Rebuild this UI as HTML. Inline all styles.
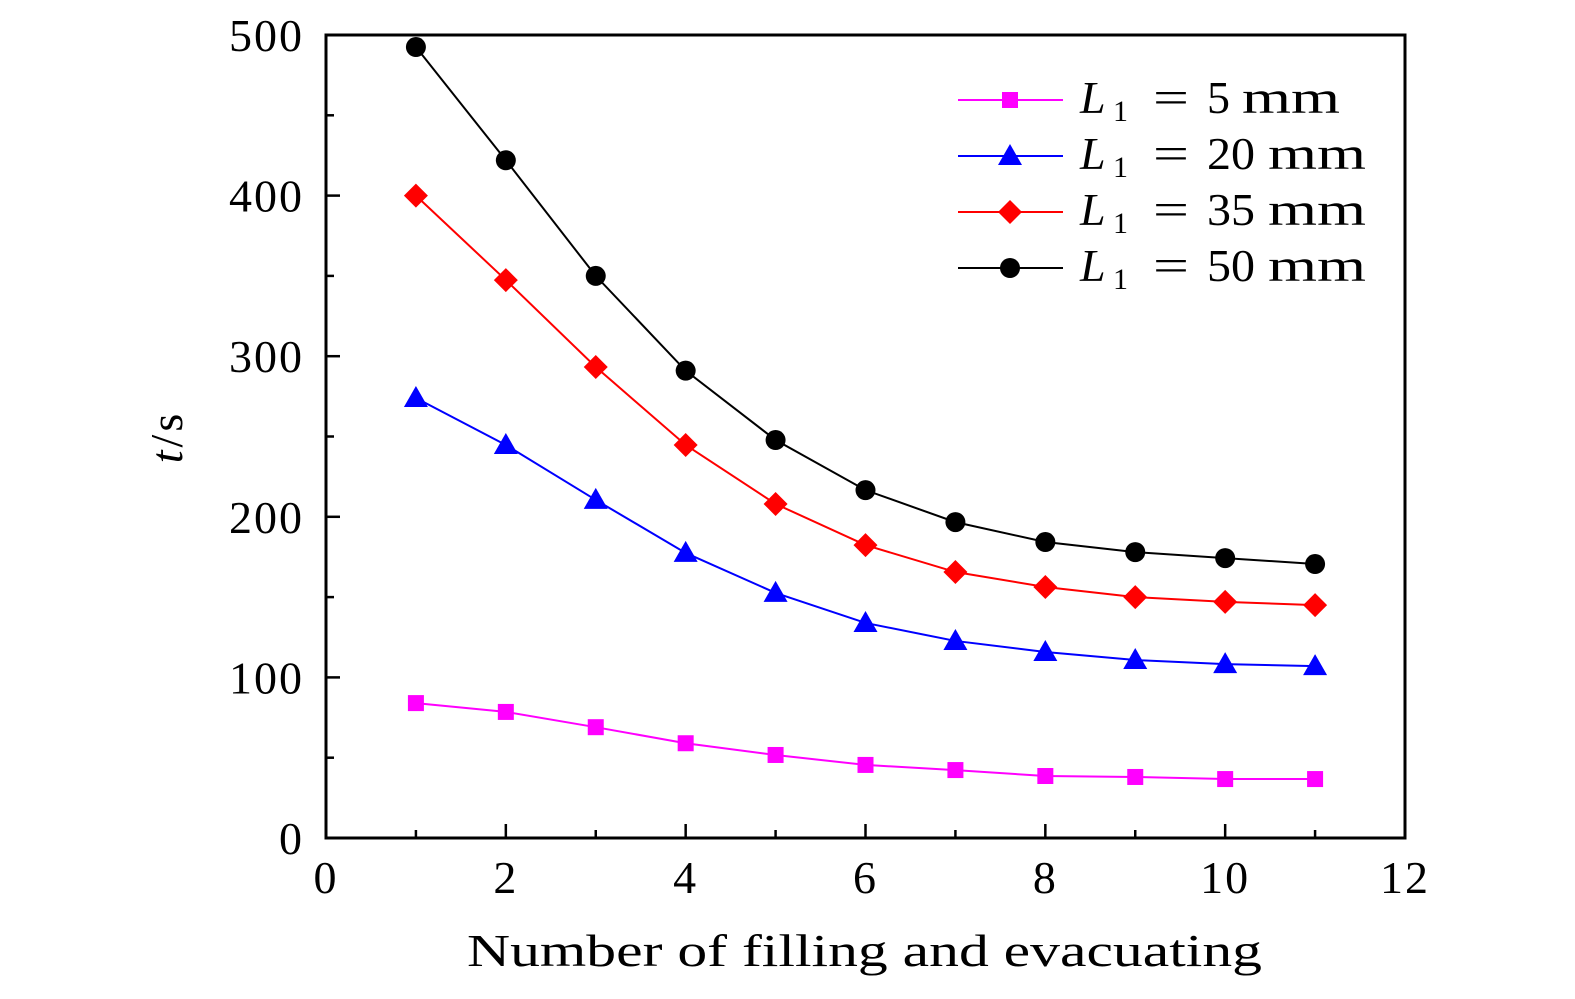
<!DOCTYPE html>
<html><head><meta charset="utf-8"><style>
html,body{margin:0;padding:0;background:#fff;}
svg text{font-family:"Liberation Serif",serif;fill:#000;}
</style></head><body>
<svg id="chart" width="1575" height="994" viewBox="0 0 1575 994" xmlns="http://www.w3.org/2000/svg">
<rect x="0" y="0" width="1575" height="994" fill="#fff"/>
<g id="axes"></g>
<g id="series"></g>
<g id="legend"></g>
<text x="467" y="966" font-size="46" textLength="795" lengthAdjust="spacingAndGlyphs">Number of filling and evacuating</text>
<text transform="translate(182,437) rotate(-90)" font-size="46" text-anchor="middle" letter-spacing="3"><tspan font-style="italic">t</tspan>/s</text>
</svg>
<script>
const xCats = [1,2,3,4,5,6,7,8,9,10,11];
const s5 = [84,78.5,69,59,51.7,45.5,42.3,38.6,38,36.7,36.7];
const s20 = [274,244.7,210.5,177.5,152.6,133.9,122.7,115.8,110.8,108.3,107];
const s35 = [400,347.4,293.3,244.7,208,182.4,165.6,156.3,150,147,145];
const s50 = [492.5,422,350,291,247.8,216.6,196.7,184.3,178,174.3,170.6];
const xTicks = [0,2,4,6,8,10,12];
const yTicks = [0,100,200,300,400,500];
const legendLabels = ["5","20","35","50"];

const NS="http://www.w3.org/2000/svg";
const X0=326,X1=1405,Y0=838,Y1=35;
const xs=v=>X0+(v-0)/12*(X1-X0);
const ys=v=>Y0-(v-0)/500*(Y0-Y1);
function mk(tag,attrs,parent){const e=document.createElementNS(NS,tag);for(const k in attrs)e.setAttribute(k,attrs[k]);parent.appendChild(e);return e;}
const axes=document.getElementById('axes');
const frame=mk('rect',{x:X0,y:Y1,width:X1-X0,height:Y0-Y1,fill:'none',stroke:'#000','stroke-width':3},axes);


for(let v=1;v<12;v+=1){const x=xs(v);const len=(v%2===0)?14:8;
 const t=mk('line',{x1:x,x2:x,y1:Y0,y2:Y0-len,stroke:'#000','stroke-width':2.5},axes);
 
 }
for(let v=50;v<500;v+=50){const y=ys(v);const len=(v%100===0)?14:8;
 const t=mk('line',{x1:X0,x2:X0+len,y1:y,y2:y,stroke:'#000','stroke-width':2.5},axes);
 
 }
xTicks.forEach(v=>{const t=mk('text',{x:xs(v),y:893,'font-size':46,'text-anchor':'middle','letter-spacing':2},axes);t.textContent=v;
 
 });
yTicks.forEach(v=>{const t=mk('text',{x:304,y:ys(v)+16,'font-size':46,'text-anchor':'end','letter-spacing':2},axes);t.textContent=v;
 
 });

function marker(g,type,x,y,color){let e;
 if(type==='sq')e=mk('rect',{x:x-8,y:y-8,width:16,height:16,fill:color},g);
 else if(type==='tri')e=mk('polygon',{points:`${x},${y-12} ${x-12},${y+9} ${x+12},${y+9}`,fill:color},g);
 else if(type==='dia')e=mk('polygon',{points:`${x},${y-12} ${x+12},${y} ${x},${y+12} ${x-12},${y}`,fill:color},g);
 else e=mk('circle',{cx:x,cy:y,r:10,fill:color},g);
 return e;}
const seriesDefs=[[s5,'#ff00ff','sq','series-5mm'],[s20,'#0000ff','tri','series-20mm'],[s35,'#ff0000','dia','series-35mm'],[s50,'#000000','circ','series-50mm']];
const sg=document.getElementById('series');
seriesDefs.forEach(([d,c,m,n])=>{const g=mk('g',{},sg);
 
 
 const pts=d.map((v,i)=>xs(xCats[i])+','+ys(v)).join(' ');
 const l=mk('polyline',{points:pts,fill:'none',stroke:c,'stroke-width':2},g);
 
 
 d.forEach((v,i)=>{const e=marker(g,m,xs(xCats[i]),ys(v),c);
  
  });});
const lg=document.getElementById('legend');
seriesDefs.forEach(([d,c,m,n],i)=>{const y=100+i*56;const g=mk('g',{},lg);
 
 
 mk('line',{x1:958,x2:1063,y1:y,y2:y,stroke:c,'stroke-width':2},g);
 marker(g,m,1010,y,c);
 const lab=legendLabels[i];
 const two=lab.length>1;
 const t1=mk('text',{x:1080,y:y+13,'font-size':46,'font-style':'italic'},g);
 t1.textContent='L';
 const t1b=mk('text',{x:1113,y:y+21,'font-size':30},g);
 t1b.textContent='1';
 const t2=mk('text',{x:1153,y:y+13,'font-size':46,textLength:36,lengthAdjust:'spacingAndGlyphs'},g);
 t2.textContent='=';
 const t3=mk('text',{x:1207,y:y+13,'font-size':46,textLength:two?48:23,lengthAdjust:'spacingAndGlyphs'},g);
 t3.textContent=lab;
 const t4=mk('text',{x:two?1268:1242,y:y+13,'font-size':46,textLength:98,lengthAdjust:'spacingAndGlyphs'},g);
 t4.textContent='mm';});
</script>
</body></html>
